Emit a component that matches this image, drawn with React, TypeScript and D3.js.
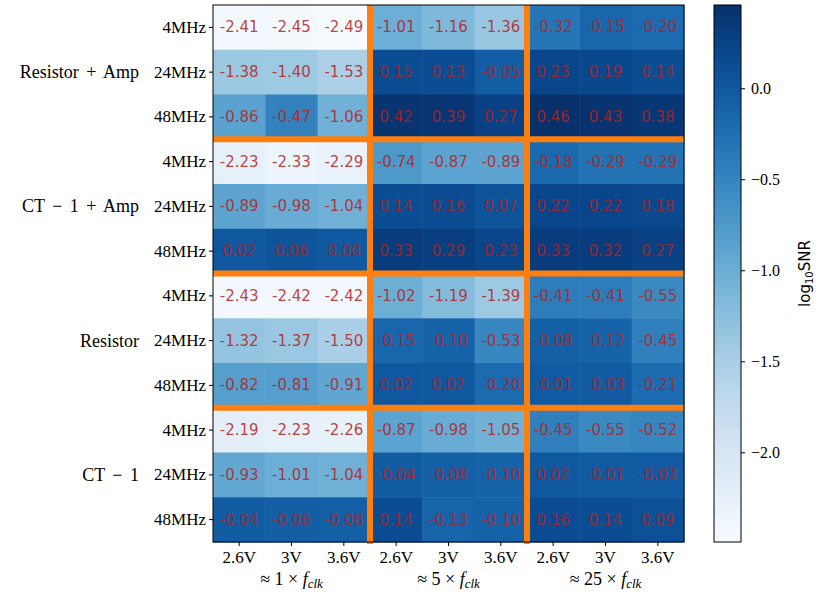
import React from "react";
import * as d3 from "d3";

// Data
const groups = ["Resistor + Amp", "CT − 1 + Amp", "Resistor", "CT − 1"];
const freqs = ["4MHz", "24MHz", "48MHz"];
const voltages = ["2.6V", "3V", "3.6V"];
const clockGroups = ["1", "5", "25"];

const resistorAmp = [
  [-2.41, -2.45, -2.49, -1.01, -1.16, -1.36, -0.32, -0.15, -0.2],
  [-1.38, -1.4, -1.53, 0.15, 0.13, -0.05, 0.23, 0.19, 0.14],
  [-0.86, -0.47, -1.06, 0.42, 0.39, 0.27, 0.46, 0.43, 0.38],
];
const ct1Amp = [
  [-2.23, -2.33, -2.29, -0.74, -0.87, -0.89, -0.18, -0.29, -0.29],
  [-0.89, -0.98, -1.04, 0.14, 0.16, 0.07, 0.22, 0.22, 0.18],
  [0.02, 0.06, 0.0, 0.33, 0.29, 0.23, 0.33, 0.32, 0.27],
];
const resistor = [
  [-2.43, -2.42, -2.42, -1.02, -1.19, -1.39, -0.41, -0.41, -0.55],
  [-1.32, -1.37, -1.5, -0.15, -0.1, -0.53, -0.08, -0.12, -0.45],
  [-0.82, -0.81, -0.91, 0.02, 0.02, -0.2, -0.01, -0.03, -0.21],
];
const ct1 = [
  [-2.19, -2.23, -2.26, -0.87, -0.98, -1.05, -0.45, -0.55, -0.52],
  [-0.93, -1.01, -1.04, -0.04, -0.08, -0.1, 0.02, -0.01, -0.03],
  [-0.04, -0.06, -0.08, 0.14, -0.13, -0.1, 0.16, 0.14, 0.09],
];
const colorbarTicks = [0, -0.5, -1, -1.5, -2];

const groupData = [resistorAmp, ct1Amp, resistor, ct1];
const rows = groupData.flat();
const rowLabels = groups.flatMap(() => freqs);
const colLabels = clockGroups.flatMap(() => voltages);

const W = 817;
const H = 595;
const left = 213, right = 684, top = 5, bottom = 542;
const cbLeft = 714, cbRight = 741;
const serif = "'Liberation Serif', 'DejaVu Serif', serif";
const sans = "'DejaVu Sans', sans-serif";
const orange = "#ff7f0e";

export default function App() {
  const allVals = rows.flat();
  const vmin = d3.min(allVals)!;
  const vmax = d3.max(allVals)!;
  const color = d3.scaleSequential(d3.interpolateBlues).domain([vmin, vmax]);

  const x = d3.scaleBand<number>().domain(d3.range(colLabels.length)).range([left, right]);
  const y = d3.scaleBand<number>().domain(d3.range(rows.length)).range([top, bottom]);
  const cbY = d3.scaleLinear().domain([vmin, vmax]).range([bottom, top]);

  const stops = d3.range(0, 1.0001, 0.05);
  const fmt = (v: number) => (v < 0 ? "−" : "") + Math.abs(v).toFixed(1);

  return (
    <svg width={W} height={H} style={{ position: "absolute", left: 0, top: 0, background: "#fff" }}>
      <defs>
        <linearGradient id="cb" x1="0" y1="1" x2="0" y2="0">
          {stops.map((t) => (
            <stop key={t} offset={t} stopColor={d3.interpolateBlues(t)} />
          ))}
        </linearGradient>
      </defs>

      {/* cells */}
      {rows.map((row, i) =>
        row.map((v, j) => (
          <g key={`${i}-${j}`}>
            <rect
              x={x(j)}
              y={y(i)}
              width={x.bandwidth() + 0.5}
              height={y.bandwidth() + 0.5}
              fill={color(v)}
            />
            <text
              x={x(j)! + x.bandwidth() / 2}
              y={y(i)! + y.bandwidth() / 2}
              textAnchor="middle"
              dominantBaseline="central"
              fontFamily={sans}
              fontSize={15}
              fill="#b22222"
              fillOpacity={0.85}
            >
              {v.toFixed(2)}
            </text>
          </g>
        ))
      )}

      {/* separators */}
      {[3, 6].map((j) => (
        <line key={`v${j}`} x1={x(j)} x2={x(j)} y1={top} y2={bottom + 2} stroke={orange} strokeWidth={6} />
      ))}
      {[3, 6, 9].map((i) => (
        <line key={`h${i}`} x1={left} x2={right} y1={y(i)} y2={y(i)} stroke={orange} strokeWidth={6} />
      ))}
      <rect x={left} y={top} width={right - left} height={bottom - top} fill="none" stroke="#000" strokeWidth={1} />

      {/* y axis */}
      {rowLabels.map((lab, i) => {
        const cy = y(i)! + y.bandwidth() / 2;
        return (
          <g key={`yl${i}`}>
            <line x1={left - 4} x2={left} y1={cy} y2={cy} stroke="#000" />
            <text x={left - 7} y={cy} textAnchor="end" dominantBaseline="central" fontFamily={serif} fontSize={17}>
              {lab}
            </text>
          </g>
        );
      })}
      {groups.map((g, k) => {
        const cy = y(k * 3 + 1)! + y.bandwidth() / 2;
        return (
          <text
            key={g}
            x={139}
            y={cy}
            textAnchor="end"
            dominantBaseline="central"
            fontFamily={serif}
            fontSize={18}
            wordSpacing={3}
          >
            {g}
          </text>
        );
      })}

      {/* x axis */}
      {colLabels.map((lab, j) => {
        const cx = x(j)! + x.bandwidth() / 2;
        return (
          <g key={`xl${j}`}>
            <line x1={cx} x2={cx} y1={bottom} y2={bottom + 4} stroke="#000" />
            <text x={cx} y={563} textAnchor="middle" fontFamily={serif} fontSize={17}>
              {lab}
            </text>
          </g>
        );
      })}
      {clockGroups.map((c, k) => {
        const cx = x(k * 3 + 1)! + x.bandwidth() / 2;
        return (
          <text key={c} x={cx} y={585} textAnchor="middle" fontFamily={serif} fontSize={18}>
            ≈ {c} ×{" "}
            <tspan fontStyle="italic">f</tspan>
            <tspan fontStyle="italic" fontSize={13} dy={3}>clk</tspan>
          </text>
        );
      })}

      {/* colorbar */}
      <rect x={cbLeft} y={top} width={cbRight - cbLeft} height={bottom - top} fill="url(#cb)" stroke="#000" strokeWidth={1} />
      {colorbarTicks.map((t) => (
        <g key={t}>
          <line x1={cbRight} x2={cbRight + 4} y1={cbY(t)} y2={cbY(t)} stroke="#000" />
          <text x={cbRight + 10} y={cbY(t)} dominantBaseline="central" fontFamily={serif} fontSize={16}>
            {fmt(t)}
          </text>
        </g>
      ))}
      <text
        transform={`translate(810, ${(top + bottom) / 2}) rotate(-90)`}
        textAnchor="middle"
        fontFamily={sans}
        fontSize={15}
      >
        log<tspan fontSize={10} dy={3}>10</tspan>
        <tspan dy={-3}>SNR</tspan>
      </text>
    </svg>
  );
}
